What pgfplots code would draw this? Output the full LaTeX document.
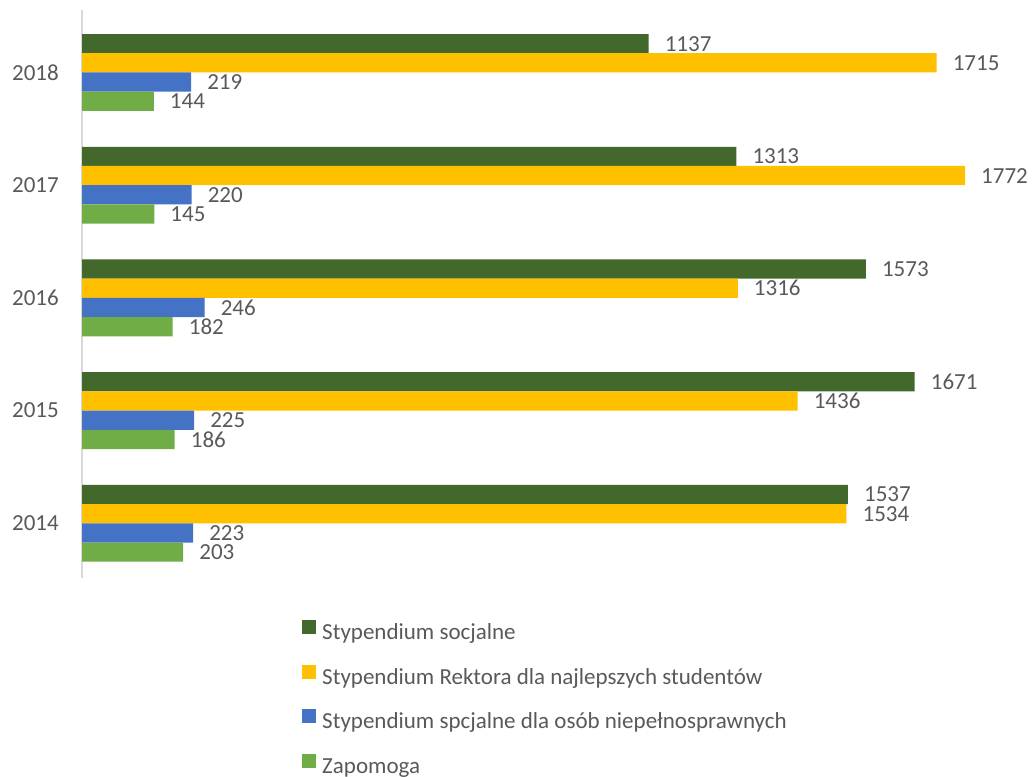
\documentclass[border=0pt]{standalone}
\usepackage{pgfplots}
\pgfplotsset{compat=1.18}
\usepackage{fontspec}
\setmainfont{Carlito}
\definecolor{dg}{HTML}{43682B}
\definecolor{yl}{HTML}{FFC000}
\definecolor{bl}{HTML}{4472C4}
\definecolor{lg}{HTML}{70AD47}
\definecolor{txt}{HTML}{595959}
\definecolor{axg}{HTML}{D9D9D9}
\newcommand{\chfont}{\fontsize{23}{27}\selectfont}
\begin{document}
\begin{tikzpicture}
\useasboundingbox (0,0) rectangle (1032pt,776pt);
\begin{axis}[
  at={(82pt,198pt)}, anchor=south west,
  scale only axis, width=946.8pt, height=568pt,
  xmin=0, xmax=1900, ymin=-0.485, ymax=4.554,
  xbar, bar width=19.2pt,
  clip=false,
  axis x line=none, axis y line*=left,
  y axis line style={draw=axg, line width=1.5pt},
  ytick={0,1,2,3,4}, yticklabels={2014,2015,2016,2017,2018},
  major tick length=0pt,
  yticklabel style={font=\chfont, text=txt, inner sep=0pt, xshift=-23pt},
  /pgf/number format/assume math mode=true,
  /pgf/number format/1000 sep={},
  nodes near coords,
  nodes near coords style={font=\chfont, text=txt, inner sep=0pt, anchor=west, xshift=16pt},
  legend cell align=left,
  legend style={draw=none, fill=none, at={(rel axis cs:0.2324,-0.0740)}, anchor=north west,
    font=\chfont, text=txt, inner sep=0pt,
    nodes={inner sep=0pt, text height=17pt, text depth=6pt},
    row sep=19.1pt, column sep=6pt},
]
\addplot[fill=dg, draw=none, bar shift=28.8pt, legend image code/.code={\fill[dg] (0pt,0pt) rectangle (14pt,14pt);}]
  coordinates {(1537,0) (1671,1) (1573,2) (1313,3) (1137,4)};
\addlegendentry{Stypendium socjalne}
\addplot[fill=yl, draw=none, bar shift=9.6pt, legend image code/.code={\fill[yl] (0pt,0pt) rectangle (14pt,14pt);}]
  coordinates {(1534,0) (1436,1) (1316,2) (1772,3) (1715,4)};
\addlegendentry{Stypendium Rektora dla najlepszych studentów}
\addplot[fill=bl, draw=none, bar shift=-9.6pt, legend image code/.code={\fill[bl] (0pt,0pt) rectangle (14pt,14pt);}]
  coordinates {(223,0) (225,1) (246,2) (220,3) (219,4)};
\addlegendentry{Stypendium spcjalne dla osób niepełnosprawnych}
\addplot[fill=lg, draw=none, bar shift=-28.8pt, legend image code/.code={\fill[lg] (0pt,0pt) rectangle (14pt,14pt);}]
  coordinates {(203,0) (186,1) (182,2) (145,3) (144,4)};
\addlegendentry{Zapomoga}
\end{axis}
\end{tikzpicture}
\end{document}
